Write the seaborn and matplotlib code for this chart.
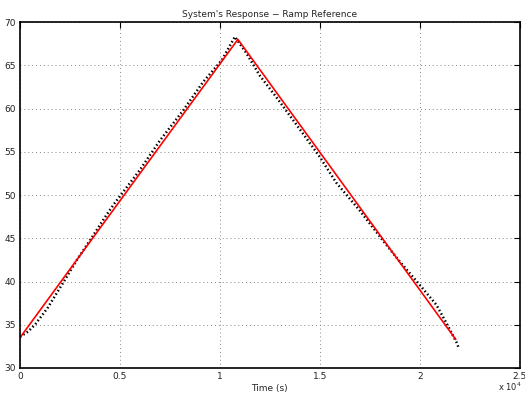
import numpy as np
import pandas as pd
import matplotlib
matplotlib.use("Agg")
import matplotlib.pyplot as plt
import seaborn as sns

# reference ramp (red)
ref_t = [0, 10900, 21800]
ref_y = [33.5, 68.0, 33.3]

# measured response (black dotted)
resp_t = [0, 400, 750, 1400, 2250, 2850, 3600, 4330, 4750, 6000, 7000, 8170,
          9170, 10100, 10750, 11300, 12000, 12830, 14000, 15000, 15830, 17000,
          18170, 19000, 20000, 20830, 21330, 21830, 21950]
resp_y = [33.6, 34.2, 35.0, 37.0, 40.2, 42.5, 45.1, 47.7, 49.1, 52.9, 56.3, 59.8,
          63.1, 65.6, 68.3, 66.5, 63.8, 61.3, 57.6, 54.4, 51.4, 48.2,
          44.7, 42.3, 39.6, 37.3, 35.2, 33.0, 32.3]

xticks = [0, 5000, 10000, 15000, 20000, 25000]
xlabels = ["0", "0.5", "1", "1.5", "2", "2.5"]
yticks = [30, 35, 40, 45, 50, 55, 60, 65, 70]

sns.set_style("white")
plt.rcParams["font.family"] = ["DejaVu Sans"]

fig = plt.figure(figsize=(5.25, 3.94), dpi=100)
ax = fig.add_axes([0.038, 0.066, 0.952, 0.878])

resp = pd.DataFrame({"t": resp_t, "y": resp_y})
ref = pd.DataFrame({"t": ref_t, "y": ref_y})

sns.lineplot(data=resp, x="t", y="y", ax=ax, color="black", lw=1.8,
             linestyle=(0, (0.6, 1.0)), sort=False)
sns.lineplot(data=ref, x="t", y="y", ax=ax, color="red", lw=1.2, sort=False)

ax.set_xlim(0, 25000)
ax.set_ylim(30, 70)
ax.set_xticks(xticks)
ax.set_xticklabels(xlabels)
ax.set_yticks(yticks)
ax.grid(True, linestyle=(0, (1, 3)), color="#888888", lw=0.7)
ax.tick_params(direction="in", length=4, labelsize=6.5, top=True, right=True,
               color="black", labelcolor="#222222", pad=3)
for s in ax.spines.values():
    s.set_color("black")
    s.set_linewidth(1.2)

ax.set_xlabel("Time (s)", fontsize=6.5, labelpad=2)
ax.set_ylabel("")
ax.set_title("System's Response \u2212 Ramp Reference", fontsize=6.5, pad=4)
fig.text(0.994, 0.018, "x 10$^4$", fontsize=6, ha="right", va="center",
         color="#222222")

fig.savefig("out.png", dpi=100)
